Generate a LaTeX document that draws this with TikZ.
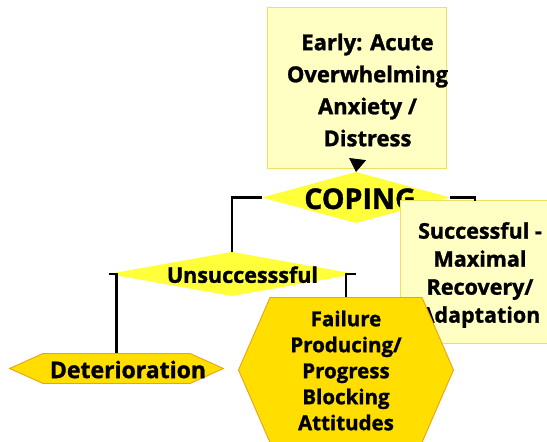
\documentclass[tikz,border=0pt]{standalone}
\usepackage{fontspec}
\setmainfont{Open Sans}[BoldFeatures={FakeBold=1.3}]
\usetikzlibrary{arrows.meta}
\definecolor{boxfill}{HTML}{FFFFC4}
\definecolor{boxline}{HTML}{EEE060}
\definecolor{diafill}{HTML}{FFFF3A}
\definecolor{hexfill}{HTML}{FFDE00}
\definecolor{hexline}{HTML}{E8A317}
\begin{document}
\begin{tikzpicture}[x=1pt,y=1pt,
  every node/.style={inner sep=0pt, outer sep=0pt},
  txt/.style={align=center, text=black},
  bigtxt/.style={txt, font=\bfseries\fontsize{22}{32}\selectfont},
  coptxt/.style={txt, font=\bfseries\fontsize{28.5}{30}\selectfont},
  midtxt/.style={txt, font=\bfseries\fontsize{21.5}{28}\selectfont},
  dettxt/.style={txt, font=\bfseries\fontsize{23}{28}\selectfont},
  smalltxt/.style={txt, font=\bfseries\fontsize{20.5}{26}\selectfont},
  notebox/.style={rectangle, draw=boxline, fill=boxfill, line width=0.8pt},
  decision/.style={rectangle, path picture={\fill[diafill] (path picture bounding box.west) -- (path picture bounding box.north) -- (path picture bounding box.east) -- (path picture bounding box.south) -- cycle;}},
  hexa/.style={rectangle, path picture={\filldraw[fill=hexfill, draw=hexline, line width=0.9pt]
     ([xshift=0.5pt]path picture bounding box.west)
     -- ([xshift=#1, yshift=-0.5pt]path picture bounding box.north west)
     -- ([xshift=-#1, yshift=-0.5pt]path picture bounding box.north east)
     -- ([xshift=-0.5pt]path picture bounding box.east)
     -- ([xshift=-#1, yshift=0.5pt]path picture bounding box.south east)
     -- ([xshift=#1, yshift=0.5pt]path picture bounding box.south west) -- cycle;}},
  conn/.style={draw=black, line width=2.2pt},
]
\useasboundingbox (0,0) rectangle (547,442);

% top box
\node[notebox, minimum width=179, minimum height=161] (early) at (356.5,354.5) {};
\node[bigtxt] (earlyT) at (367.5,352) {Early: Acute\\Overwhelming\\Anxiety /\\Distress};

% coping decision
\node[decision, minimum width=188, minimum height=51] (coping) at (356,244.5) {};
\draw[-{Triangle[length=13pt,width=17pt]}, line width=0.8pt] (early.south) -- (coping.north);
\node[coptxt] (copingT) at (360,243.2) {COPING};

% unsuccessful decision
\node[decision, minimum width=247, minimum height=44] (unsucc) at (232,168) {};
\node[midtxt] (unsuccT) at (242.5,167.3) {Unsuccesssful};

% successful box
\node[notebox, minimum width=150, minimum height=142.3] (succ) at (475,170.2) {};
\node[midtxt] (succT) at (480,167) {Successful -\\Maximal\\Recovery/\\Adaptation};

% failure hexagon
\node[hexa=32pt, minimum width=216, minimum height=146] (fail) at (346,72) {};
\node[smalltxt] (failT) at (346,71.5) {Failure\\Producing/\\Progress\\Blocking\\Attitudes};

% deterioration hexagon
\node[hexa=34pt, minimum width=215, minimum height=31] (deter) at (116.5,73.5) {};
\node[dettxt] (deterT) at (128,72.5) {Deterioration};

% connectors
\draw[conn] (coping.west) -| (unsucc.north);
\draw[conn] (coping.east) -| (succ.north);
\draw[conn] (unsucc.west) -| (deter.north);
\draw[conn] (unsucc.east) -| (fail.north);
\end{tikzpicture}
\end{document}
